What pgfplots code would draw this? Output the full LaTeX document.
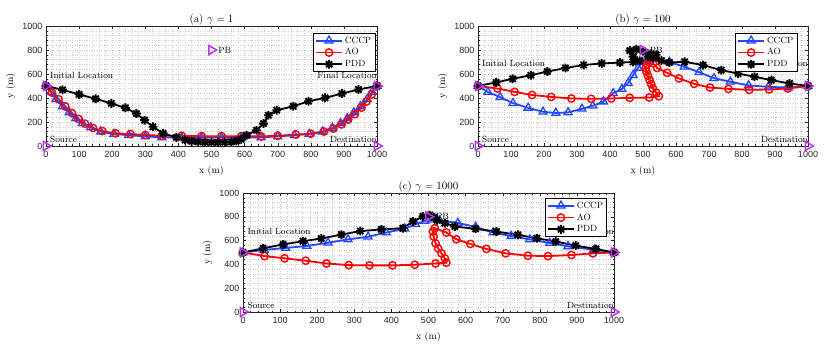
\documentclass[border=0pt]{standalone}
\usepackage{fontspec}
\usepackage{pgfplots}
\pgfplotsset{compat=1.18}
\newfontfamily\ticksf{Liberation Sans}
\definecolor{cccpblue}{RGB}{35,70,255}
\definecolor{pbpurple}{RGB}{185,55,235}
\definecolor{axgray}{RGB}{38,38,38}

% MATLAB-like '*' marker: plus and cross
\pgfdeclareplotmark{mstar}{%
  \pgfpathmoveto{\pgfqpoint{-\pgfplotmarksize}{0pt}}%
  \pgfpathlineto{\pgfqpoint{\pgfplotmarksize}{0pt}}%
  \pgfpathmoveto{\pgfqpoint{0pt}{-\pgfplotmarksize}}%
  \pgfpathlineto{\pgfqpoint{0pt}{\pgfplotmarksize}}%
  \pgfpathmoveto{\pgfqpoint{-0.707\pgfplotmarksize}{-0.707\pgfplotmarksize}}%
  \pgfpathlineto{\pgfqpoint{0.707\pgfplotmarksize}{0.707\pgfplotmarksize}}%
  \pgfpathmoveto{\pgfqpoint{-0.707\pgfplotmarksize}{0.707\pgfplotmarksize}}%
  \pgfpathlineto{\pgfqpoint{0.707\pgfplotmarksize}{-0.707\pgfplotmarksize}}%
  \pgfusepathqstroke}

\tikzset{lbl/.style={font=\fontsize{9}{10}\selectfont, inner sep=0pt}}

\pgfplotsset{
  traj/.style={
    scale only axis, clip=false,
    xmin=0, xmax=1000, ymin=0, ymax=1000,
    xtick={0,100,...,1000}, ytick={0,200,...,1000},
    minor x tick num=4, minor y tick num=4,
    grid=both,
    major grid style={black!18, dotted, line width=0.4pt},
    minor grid style={black!18, dotted, line width=0.4pt},
    tick align=inside, major tick length=3pt, minor tick length=1.5pt,
    axis line style={axgray, line width=0.5pt},
    every tick/.style={axgray, line width=0.4pt},
    tick label style={font=\ticksf\fontsize{9}{10}\selectfont, text=axgray},
    xticklabel style={yshift=-1.5pt},
    /pgf/number format/assume math mode=true,
    /pgf/number format/1000 sep={},
    xlabel={x (m)}, ylabel={y (m)},
    label style={font=\fontsize{10}{12}\selectfont},
    xlabel style={yshift=-1.5pt},
    title style={font=\fontsize{11}{13}\selectfont, yshift=-8.5pt},
    legend style={font=\fontsize{9}{10}\selectfont, draw=black, line width=0.5pt,
      inner sep=1.5pt, row sep=0pt, fill=white, cells={anchor=west}},
    legend image code/.code={\draw[mark repeat=2,mark phase=2]
      plot coordinates {(0pt,0pt) (13pt,0pt) (26pt,0pt)};},
  },
  cccp/.style={color=cccpblue, line width=1.8pt, mark=triangle, mark size=4.6pt,
    mark options={solid, line width=1.3pt}},
  ao/.style={color=red, line width=1.8pt, mark=o, mark size=3.7pt,
    mark options={solid, line width=1.4pt}},
  pdd/.style={color=black, line width=1.8pt, mark=mstar, mark size=4.4pt,
    mark options={solid, line width=1.9pt}},
  pts/.style={only marks, color=pbpurple, mark=triangle, mark size=5.2pt,
    mark options={rotate=-90, line width=1.5pt}},
}

\begin{document}
\begin{tikzpicture}
\useasboundingbox (0,0) rectangle (830pt,351pt);

% (a) gamma = 1
\begin{axis}[traj, at={(46pt,205pt)}, width=331pt, height=120pt,
  title={(a) $\gamma = 1$},
  legend style={at={(0.994,0.942)}, anchor=north east}]
\node[lbl, anchor=west] at (axis cs:12,590) {Initial Location};
\node[lbl, anchor=west] at (axis cs:12,58) {Source};
\node[lbl, anchor=east] at (axis cs:1000,590) {Final Location};
\node[lbl, anchor=east] at (axis cs:1000,58) {Destination};
\node[lbl, anchor=west] at (axis cs:520,800) {PB};
\addplot[cccp] coordinates {
  (0,500) (15,450) (30,390) (50,330) (70,280) (90,230) (110,190) (135,155)
  (165,120) (205,100) (250,90) (300,80) (350,72) (410,70) (470,70) (530,70)
  (590,70) (650,72) (700,80) (750,90) (795,100) (835,120) (865,150) (890,190)
  (910,230) (930,280) (950,330) (970,390) (985,450) (1000,500)};
\addplot[ao] coordinates {
  (0,500) (18,445) (38,390) (58,330) (78,275) (98,225) (118,185) (142,150)
  (170,125) (210,105) (255,100) (300,92) (350,85) (410,85) (470,82) (530,82)
  (590,82) (650,80) (700,85) (755,95) (800,102) (840,120) (868,145) (893,180)
  (913,220) (933,265) (953,320) (968,370) (984,430) (1000,500)};
\addplot[pdd] coordinates {
  (0,500) (50,468) (100,430) (150,393) (197,355) (240,318) (273,270) (298,215)
  (323,160) (354,105) (394,72) (420,50) (440,40) (460,35) (480,32) (500,30)
  (520,30) (540,32) (560,35) (575,42) (590,55) (606,89) (636,131) (657,187)
  (672,256) (697,298) (747,331) (793,373) (843,401) (894,437) (944,471) (1000,500)};
\addplot[pts, forget plot] coordinates {(0,0) (0,500) (1000,500) (1000,0) (500,800)};
\legend{CCCP, AO, PDD}
\end{axis}

% (b) gamma = 100
\begin{axis}[traj, at={(478pt,205pt)}, width=330pt, height=120pt,
  title={(b) $\gamma = 100$},
  legend style={at={(0.967,0.942)}, anchor=north east}]
\node[lbl, anchor=west] at (axis cs:12,690) {Initial Location};
\node[lbl, anchor=west] at (axis cs:12,58) {Source};
\node[lbl, anchor=east] at (axis cs:1000,690) {Final Location};
\node[lbl, anchor=east] at (axis cs:1000,58) {Destination};
\node[lbl, anchor=west] at (axis cs:520,800) {PB};
\addplot[cccp] coordinates {
  (0,500) (30,450) (67,407) (106,357) (152,318) (197,285) (236,275) (273,280)
  (315,310) (348,335) (380,370) (410,440) (436,475) (455,525) (470,590) (485,650)
  (497,700) (520,715) (580,700) (625,660) (670,615) (715,565) (765,535) (820,505)
  (880,493) (940,487) (1000,500)};
\addplot[ao] coordinates {
  (0,500) (59,479) (111,451) (164,425) (222,409) (283,396) (343,393) (404,396)
  (460,401) (519,404) (548,415) (540,445) (530,480) (525,515) (520,550) (515,585)
  (510,620) (508,650) (512,680) (520,700) (530,690) (543,650) (573,610) (609,563)
  (655,518) (703,487) (759,476) (822,468) (882,471) (939,479) (1000,500)};
\addplot[pdd] coordinates {
  (0,500) (55,530) (105,560) (160,590) (210,620) (265,650) (320,675) (375,688)
  (430,695) (470,700) (490,710) (470,745) (460,795) (480,805) (500,790) (525,770)
  (540,760) (515,745) (530,735) (556,712) (580,695) (626,702) (682,674) (737,632)
  (788,604) (838,577) (889,549) (944,521) (1000,500)};
\addplot[pts, forget plot] coordinates {(0,0) (0,500) (1000,500) (1000,0) (500,800)};
\legend{CCCP, AO, PDD}
\end{axis}

% (c) gamma = 1000
\begin{axis}[traj, at={(243pt,39pt)}, width=371pt, height=119pt,
  title={(c) $\gamma = 1000$},
  legend style={at={(0.981,0.958)}, anchor=north east}]
\node[lbl, anchor=west] at (axis cs:12,680) {Initial Location};
\node[lbl, anchor=west] at (axis cs:12,58) {Source};
\node[lbl, anchor=east] at (axis cs:1000,680) {Final Location};
\node[lbl, anchor=east] at (axis cs:1000,58) {Destination};
\node[lbl, anchor=west] at (axis cs:520,800) {PB};
\addplot[cccp] coordinates {
  (0,500) (57,522) (115,538) (172,555) (229,582) (283,610) (337,632) (386,668)
  (436,700) (465,738) (490,765) (510,775) (530,770) (579,748) (627,715) (674,668)
  (723,638) (773,610) (827,580) (876,552) (948,522) (1000,500)};
\addplot[ao] coordinates {
  (0,500) (58,470) (112,451) (169,431) (225,408) (285,394) (341,392) (403,392)
  (463,397) (519,408) (548,414) (544,451) (535,493) (526,535) (519,577) (514,634)
  (512,676) (517,704) (548,668) (575,611) (613,572) (656,530) (708,493) (768,473)
  (822,470) (885,479) (943,493) (1000,500)};
\addplot[pdd] coordinates {
  (0,500) (54,535) (108,568) (162,595) (211,618) (265,650) (316,680) (373,694)
  (431,704) (458,761) (485,803) (503,815) (515,795) (523,772) (544,746) (571,718)
  (627,699) (683,676) (741,648) (792,620) (843,592) (897,558) (951,530) (1000,500)};
\addplot[pts, forget plot] coordinates {(0,0) (0,500) (1000,500) (1000,0) (500,800)};
\legend{CCCP, AO, PDD}
\end{axis}
\end{tikzpicture}
\end{document}
